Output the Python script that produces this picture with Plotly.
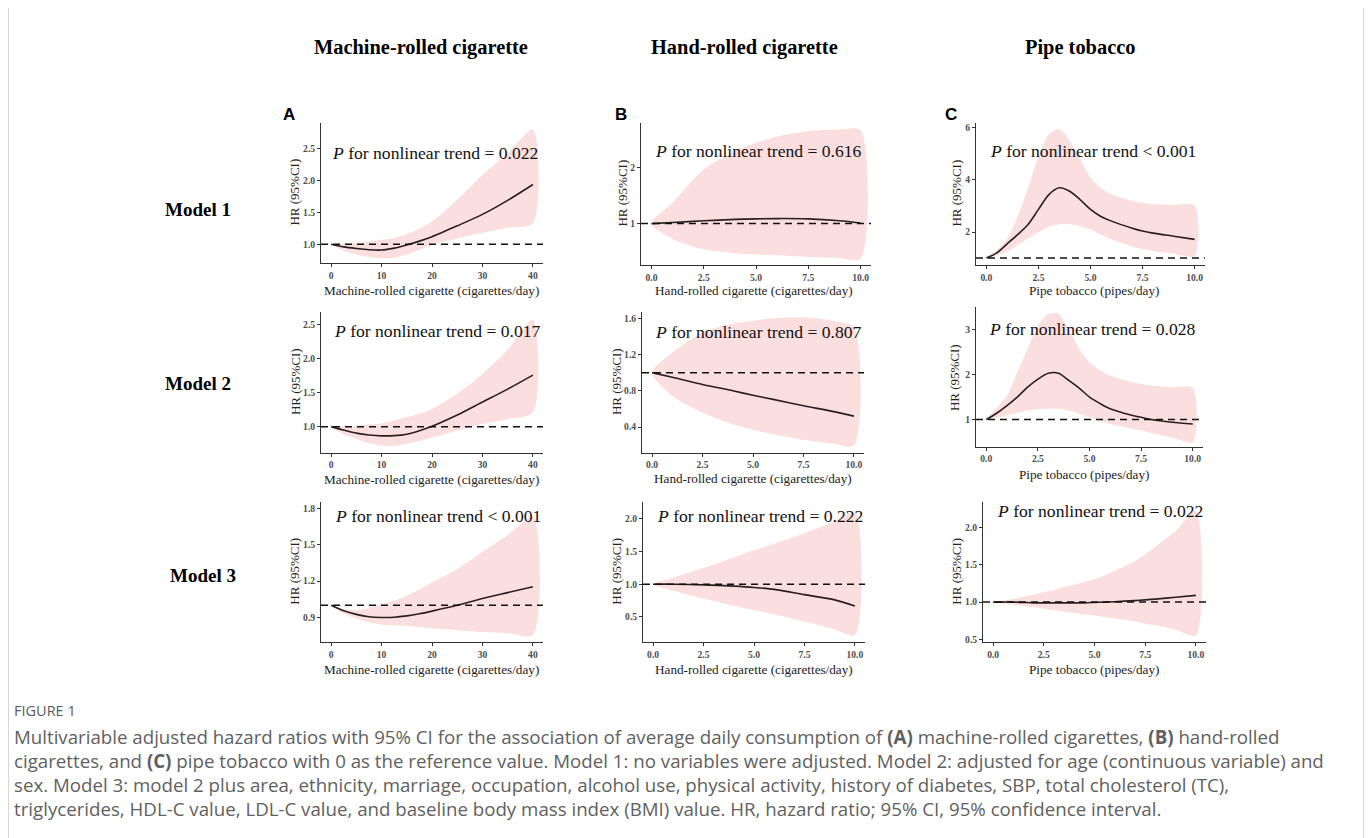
import plotly.graph_objects as go

W, H = 1372, 838

# ---------------- data ----------------
x_mach = [0, 2.5, 5, 7.5, 10, 12.5, 15, 17.5, 20, 25, 30, 35, 40]
x_hand = [0, 1, 2.5, 4, 5, 6, 7.5, 9, 10]
x_pipe = [0, 0.5, 1, 1.5, 2, 2.5, 3, 3.5, 4, 4.5, 5, 5.5, 6, 7, 7.5, 8, 9, 10]

# Model 1
A1_hr = [1.0, 0.96, 0.935, 0.915, 0.91, 0.94, 0.99, 1.05, 1.12, 1.29, 1.47, 1.69, 1.94]
A1_hi = [1.0, 1.0, 1.02, 1.04, 1.07, 1.1, 1.16, 1.25, 1.36, 1.70, 2.09, 2.43, 2.80]
A1_lo = [1.0, 0.9, 0.84, 0.8, 0.78, 0.79, 0.84, 0.91, 0.99, 1.09, 1.18, 1.26, 1.33]

B1_hr = [1.0, 1.02, 1.05, 1.075, 1.085, 1.09, 1.085, 1.05, 1.01]
B1_hi = [1.0, 1.37, 1.97, 2.3, 2.45, 2.56, 2.66, 2.69, 2.67]
B1_lo = [1.0, 0.73, 0.54, 0.47, 0.45, 0.43, 0.40, 0.38, 0.37]

C1_hr = [1.0, 1.2, 1.55, 1.9, 2.29, 2.87, 3.44, 3.70, 3.57, 3.25, 2.87, 2.6, 2.42, 2.15, 2.04, 1.96, 1.84, 1.72]
C1_hi = [1.0, 1.3, 1.75, 2.6, 3.7, 4.9, 5.75, 5.95, 5.5, 4.8, 4.1, 3.7, 3.45, 3.2, 3.12, 3.08, 3.04, 3.02]
C1_lo = [1.0, 1.1, 1.25, 1.5, 1.75, 2.0, 2.2, 2.3, 2.3, 2.22, 2.1, 1.9, 1.72, 1.45, 1.35, 1.27, 1.17, 1.08]

# Model 2
A2_hr = [1.0, 0.95, 0.905, 0.878, 0.865, 0.868, 0.89, 0.94, 1.005, 1.17, 1.36, 1.55, 1.755]
A2_hi = [1.0, 1.0, 1.01, 1.03, 1.05, 1.09, 1.14, 1.19, 1.26, 1.48, 1.77, 2.13, 2.57]
A2_lo = [1.0, 0.89, 0.82, 0.76, 0.72, 0.72, 0.75, 0.79, 0.84, 0.94, 1.04, 1.11, 1.21]

B2_hr = [1.0, 0.95, 0.87, 0.8, 0.75, 0.705, 0.635, 0.57, 0.52]
B2_hi = [1.0, 1.22, 1.44, 1.54, 1.57, 1.60, 1.61, 1.57, 1.50]
B2_lo = [1.0, 0.745, 0.56, 0.43, 0.37, 0.32, 0.26, 0.215, 0.195]

C2_hr = [1.0, 1.14, 1.31, 1.5, 1.72, 1.9, 2.03, 2.03, 1.87, 1.7, 1.5, 1.36, 1.24, 1.1, 1.05, 1.0, 0.94, 0.9]
C2_hi = [1.0, 1.25, 1.53, 2.05, 2.57, 3.09, 3.35, 3.35, 3.0, 2.57, 2.27, 2.1, 1.98, 1.84, 1.79, 1.76, 1.72, 1.70]
C2_lo = [1.0, 1.04, 1.09, 1.15, 1.2, 1.23, 1.24, 1.24, 1.2, 1.13, 1.05, 0.97, 0.9, 0.8, 0.76, 0.7, 0.6, 0.5]

# Model 3
A3_hr = [1.0, 0.955, 0.925, 0.905, 0.9, 0.902, 0.913, 0.93, 0.952, 1.0, 1.056, 1.105, 1.153]
A3_hi = [1.0, 0.97, 0.96, 0.98, 1.01, 1.04, 1.08, 1.13, 1.19, 1.30, 1.44, 1.58, 1.73]
A3_lo = [1.0, 0.93, 0.89, 0.86, 0.84, 0.835, 0.83, 0.82, 0.81, 0.795, 0.78, 0.77, 0.755]

B3_hr = [1.0, 1.0, 0.99, 0.97, 0.95, 0.92, 0.84, 0.76, 0.665]
B3_hi = [1.0, 1.1, 1.25, 1.41, 1.52, 1.62, 1.78, 1.96, 2.09]
B3_lo = [1.0, 0.9, 0.78, 0.67, 0.60, 0.54, 0.43, 0.31, 0.22]

C3_hr = [1.0, 1.0, 1.0, 0.995, 0.99, 0.99, 0.99, 0.99, 0.99, 0.99, 0.995, 1.0, 1.005, 1.02, 1.03, 1.04, 1.065, 1.09]
C3_hi = [1.0, 1.02, 1.04, 1.07, 1.1, 1.13, 1.16, 1.2, 1.23, 1.27, 1.31, 1.36, 1.42, 1.55, 1.64, 1.74, 1.95, 2.22]
C3_lo = [1.0, 0.98, 0.965, 0.95, 0.93, 0.91, 0.89, 0.87, 0.855, 0.835, 0.82, 0.8, 0.78, 0.74, 0.71, 0.69, 0.63, 0.555]

p_values = {"A1": "= 0.022", "B1": "= 0.616", "C1": "< 0.001",
            "A2": "= 0.017", "B2": "= 0.807", "C2": "= 0.028",
            "A3": "< 0.001", "B3": "= 0.222", "C3": "= 0.022"}

xticks_mach = [0, 10, 20, 30, 40]
xticks_hp = [0, 2.5, 5, 7.5, 10]
xticklabels_hp = ["0.0", "2.5", "5.0", "7.5", "10.0"]

col_titles = ["Machine-rolled cigarette", "Hand-rolled cigarette", "Pipe tobacco"]
row_titles = ["Model 1", "Model 2", "Model 3"]
x_titles = ["Machine-rolled cigarette (cigarettes/day)",
            "Hand-rolled cigarette (cigarettes/day)",
            "Pipe tobacco (pipes/day)"]

# ---------------- layout geometry (pixels of the reference) ----------------
panels = [
    dict(k="A1", x=x_mach, hr=A1_hr, hi=A1_hi, lo=A1_lo, box=(321, 123, 543, 264), xr=[-2, 42], yr=[0.70, 2.91],
         yt=[1.0, 1.5, 2.0, 2.5], yf=".1f", ptxt=(435, 153), xtp=(431, 288), ytp=(295, 193)),
    dict(k="B1", x=x_hand, hr=B1_hr, hi=B1_hi, lo=B1_lo, box=(641, 123, 871, 266), xr=[-0.5, 10.5], yr=[0.25, 2.81],
         yt=[1, 2], yf="d", ptxt=(758, 151), xtp=(754, 288), ytp=(623, 194)),
    dict(k="C1", x=x_pipe, hr=C1_hr, hi=C1_hi, lo=C1_lo, box=(976, 123, 1205, 266), xr=[-0.5, 10.5], yr=[0.72, 6.2],
         yt=[2, 4, 6], yf="d", ptxt=(1093, 151), xtp=(1094, 288), ytp=(957, 194)),
    dict(k="A2", x=x_mach, hr=A2_hr, hi=A2_hi, lo=A2_lo, box=(321, 313, 543, 454), xr=[-2, 42], yr=[0.615, 2.675],
         yt=[1.0, 1.5, 2.0, 2.5], yf=".1f", ptxt=(437, 332), xtp=(431, 478), ytp=(295, 383)),
    dict(k="B2", x=x_hand, hr=B2_hr, hi=B2_hi, lo=B2_lo, box=(642, 313, 864, 454), xr=[-0.5, 10.5], yr=[0.114, 1.666],
         yt=[0.4, 0.8, 1.2, 1.6], yf=".1f", ptxt=(758, 333), xtp=(753, 477), ytp=(616, 383)),
    dict(k="C2", x=x_pipe, hr=C2_hr, hi=C2_hi, lo=C2_lo, box=(976, 308, 1203, 448), xr=[-0.5, 10.5], yr=[0.39, 3.5],
         yt=[1, 2, 3], yf="d", ptxt=(1092, 330), xtp=(1084, 473), ytp=(954, 378)),
    dict(k="A3", x=x_mach, hr=A3_hr, hi=A3_hi, lo=A3_lo, box=(321, 503, 543, 644), xr=[-2, 42], yr=[0.693, 1.855],
         yt=[0.9, 1.2, 1.5, 1.8], yf=".1f", ptxt=(438, 517), xtp=(431, 668), ytp=(295, 573)),
    dict(k="B3", x=x_hand, hr=B3_hr, hi=B3_hi, lo=B3_lo, box=(643, 503, 865, 644), xr=[-0.5, 10.5], yr=[0.108, 2.26],
         yt=[0.5, 1.0, 1.5, 2.0], yf=".1f", ptxt=(760, 517), xtp=(754, 668), ytp=(617, 573)),
    dict(k="C3", x=x_pipe, hr=C3_hr, hi=C3_hi, lo=C3_lo, box=(983, 503, 1206, 644), xr=[-0.5, 10.5], yr=[0.46, 2.34],
         yt=[0.5, 1.0, 1.5, 2.0], yf=".1f", ptxt=(1100, 512), xtp=(1094, 668), ytp=(957, 573)),
]

SERIF = "Liberation Serif"
BAND = "#FBDFDF"
LINE = "#2a1f1f"
OFF = 8  # page body margin in the browser


def fx(p):
    return (p - OFF) / W


def fy(p):
    return 1 - (p - OFF) / H


fig = go.Figure()
annotations = []
shapes = []
layout_axes = {}

for i, p in enumerate(panels):
    n = "" if i == 0 else str(i + 1)
    xa, ya = "x" + n, "y" + n
    L, T, R, B = p["box"]
    # confidence band
    fig.add_trace(go.Scatter(
        x=list(p["x"]) + list(p["x"])[::-1], y=list(p["hi"]) + list(p["lo"])[::-1],
        xaxis=xa, yaxis=ya, fill="toself", fillcolor=BAND, mode="lines",
        line=dict(width=0, shape="spline", smoothing=0.8), hoverinfo="skip", showlegend=False))
    # fitted line
    fig.add_trace(go.Scatter(
        x=p["x"], y=p["hr"], xaxis=xa, yaxis=ya, mode="lines",
        line=dict(color=LINE, width=1.6, shape="spline", smoothing=0.8), showlegend=False))
    col = p["k"][0]
    if col == "A":
        xt, xtl = xticks_mach, [str(v) for v in xticks_mach]
    else:
        xt, xtl = xticks_hp, xticklabels_hp
    ytl = [format(v, p["yf"]) if p["yf"] != "d" else str(int(v)) for v in p["yt"]]
    tickfont = dict(family=SERIF, size=9.6, color="#4d4d4d", weight="bold")
    layout_axes["xaxis" + n] = dict(
        domain=[fx(L), fx(R)], anchor=ya, range=p["xr"], showgrid=False, zeroline=False,
        showline=True, linecolor="#333333", linewidth=1, ticks="outside", ticklen=3,
        tickcolor="#333333", tickvals=xt, ticktext=xtl, tickfont=tickfont, fixedrange=True)
    layout_axes["yaxis" + n] = dict(
        domain=[fy(B), fy(T)], anchor=xa, range=p["yr"], showgrid=False, zeroline=False,
        showline=True, linecolor="#333333", linewidth=1, ticks="outside", ticklen=3,
        tickcolor="#333333", tickvals=p["yt"], ticktext=ytl, tickfont=tickfont, fixedrange=True)
    # reference line at HR = 1
    shapes.append(dict(type="line", xref=xa + " domain", yref=ya, x0=0, x1=1, y0=1, y1=1,
                       line=dict(color="#111111", width=1.5, dash="7px,5px")))
    # P annotation
    annotations.append(dict(x=fx(p["ptxt"][0]), y=fy(p["ptxt"][1]), xref="paper", yref="paper",
                            text="<i>P</i> for nonlinear trend " + p_values[p["k"]], showarrow=False,
                            xanchor="center", yanchor="middle",
                            font=dict(family=SERIF, size=17.6, color="#111111")))
    # axis titles
    ci = "ABC".index(col)
    annotations.append(dict(x=fx(p["xtp"][0]), y=fy(p["xtp"][1] + 3), xref="paper", yref="paper",
                            text=x_titles[ci], showarrow=False, xanchor="center", yanchor="middle",
                            font=dict(family=SERIF, size=13.2, color="#222222")))
    annotations.append(dict(x=fx(p["ytp"][0]), y=fy(p["ytp"][1]), xref="paper", yref="paper",
                            text="HR (95%CI)", showarrow=False, textangle=-90,
                            xanchor="center", yanchor="middle",
                            font=dict(family=SERIF, size=13, color="#222222")))

# panel letters
for letter, (lx, ly) in zip("ABC", [(289, 115), (621, 115), (951, 115)]):
    annotations.append(dict(x=fx(lx), y=fy(ly), xref="paper", yref="paper", text="<b>" + letter + "</b>",
                            showarrow=False, xanchor="center", yanchor="middle",
                            font=dict(family="Liberation Sans", size=17, color="#000000")))

# column headers
for t, cx in zip(col_titles, [421, 744, 1080]):
    annotations.append(dict(x=fx(cx), y=fy(48), xref="paper", yref="paper", text="<b>" + t + "</b>",
                            showarrow=False, xanchor="center", yanchor="middle",
                            font=dict(family=SERIF, size=20.4, color="#000000")))

# row headers
for t, (rx, ry) in zip(row_titles, [(198, 210), (198, 384), (203, 577)]):
    annotations.append(dict(x=fx(rx), y=fy(ry), xref="paper", yref="paper", text="<b>" + t + "</b>",
                            showarrow=False, xanchor="center", yanchor="middle",
                            font=dict(family=SERIF, size=19, color="#000000")))

# caption
CAP = "Open Sans"
annotations.append(dict(x=fx(12), y=fy(712), xref="paper", yref="paper", text="FIGURE 1",
                        showarrow=False, xanchor="left", yanchor="middle",
                        font=dict(family=CAP, size=14.5, color="#5a5a5a")))
caption_lines = [
    "Multivariable adjusted hazard ratios with 95% CI for the association of average daily consumption of <b>(A)</b> machine-rolled cigarettes, <b>(B)</b> hand-rolled",
    "cigarettes, and <b>(C)</b> pipe tobacco with 0 as the reference value. Model 1: no variables were adjusted. Model 2: adjusted for age (continuous variable) and",
    "sex. Model 3: model 2 plus area, ethnicity, marriage, occupation, alcohol use, physical activity, history of diabetes, SBP, total cholesterol (TC),",
    "triglycerides, HDL-C value, LDL-C value, and baseline body mass index (BMI) value. HR, hazard ratio; 95% CI, 95% confidence interval.",
]
for j, line in enumerate(caption_lines):
    annotations.append(dict(x=fx(12), y=fy(738 + 24 * j), xref="paper", yref="paper", text=line,
                            showarrow=False, xanchor="left", yanchor="middle",
                            font=dict(family=CAP, size=18.7, color="#5f5f5f")))

# frame
frame = dict(color="#c8c8c8", width=1.5)
shapes.append(dict(type="line", xref="paper", yref="paper", x0=fx(8), x1=fx(1364), y0=fy(6), y1=fy(6), line=frame))
shapes.append(dict(type="line", xref="paper", yref="paper", x0=fx(8), x1=fx(8), y0=fy(6), y1=0, line=frame))
shapes.append(dict(type="line", xref="paper", yref="paper", x0=fx(1364), x1=fx(1364), y0=fy(6), y1=0, line=frame))

fig.update_layout(
    width=W, height=H, margin=dict(l=0, r=0, t=0, b=0),
    paper_bgcolor="white", plot_bgcolor="white", showlegend=False,
    annotations=annotations, shapes=shapes, **layout_axes)

fig.write_html("out.html")
